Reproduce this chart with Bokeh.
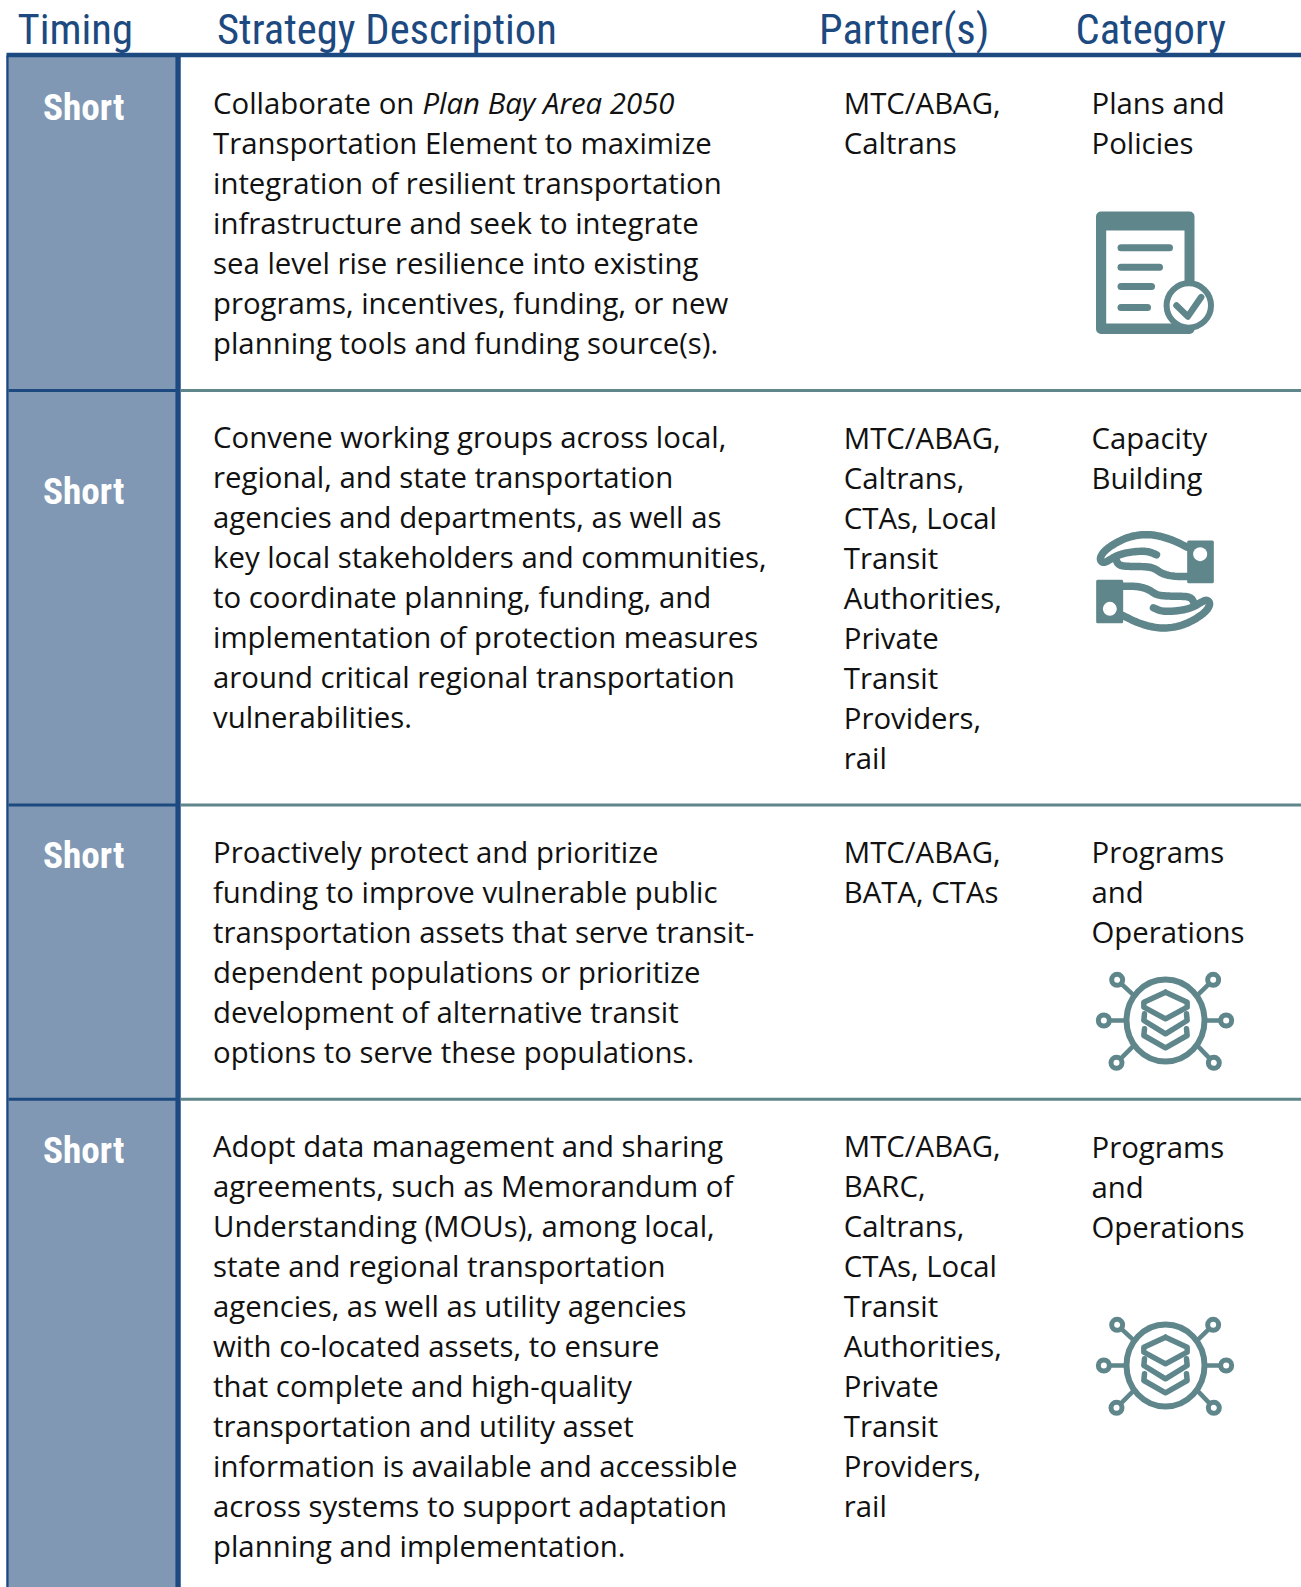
from bokeh.plotting import figure
from bokeh.embed import file_html
from bokeh.resources import INLINE
from bokeh.core.properties import value
from bokeh.models import Range1d

W, H = 1301, 1587
headers = ["Timing", "Strategy Description", "Partner(s)", "Category"]
header_x = [17, 216.5, 818.5, 1075]
timing = ["Short", "Short", "Short", "Short"]
timing_y = [106, 490, 854, 1149]
row_edges = [55, 390, 804.5, 1098.8, 1587]
strategy = [
 ["Collaborate on |Plan Bay Area 2050", "Transportation Element to maximize", "integration of resilient transportation", "infrastructure and seek to integrate", "sea level rise resilience into existing", "programs, incentives, funding, or new", "planning tools and funding source(s)."],
 ["Convene working groups across local,", "regional, and state transportation", "agencies and departments, as well as", "key local stakeholders and communities,", "to coordinate planning, funding, and", "implementation of protection measures", "around critical regional transportation", "vulnerabilities."],
 ["Proactively protect and prioritize", "funding to improve vulnerable public", "transportation assets that serve transit-", "dependent populations or prioritize", "development of alternative transit", "options to serve these populations."],
 ["Adopt data management and sharing", "agreements, such as Memorandum of", "Understanding (MOUs), among local,", "state and regional transportation", "agencies, as well as utility agencies", "with co-located assets, to ensure", "that complete and high-quality", "transportation and utility asset", "information is available and accessible", "across systems to support adaptation", "planning and implementation."],
]
strategy_y = [102, 436, 851, 1145]
partners = [
 ["MTC/ABAG,", "Caltrans"],
 ["MTC/ABAG,", "Caltrans,", "CTAs, Local", "Transit", "Authorities,", "Private", "Transit", "Providers,", "rail"],
 ["MTC/ABAG,", "BATA, CTAs"],
 ["MTC/ABAG,", "BARC,", "Caltrans,", "CTAs, Local", "Transit", "Authorities,", "Private", "Transit", "Providers,", "rail"],
]
partners_y = [102, 437, 851, 1145]
category = [["Plans and", "Policies"], ["Capacity", "Building"], ["Programs", "and", "Operations"], ["Programs", "and", "Operations"]]
category_y = [102, 437, 851, 1146]

NAVY = "#1c4a80"; STEEL = "#8098b3"; TEAL = "#5f868b"; INK = "#111111"
LEAD = 40.0

p = figure(width=W, height=H, output_backend="svg", toolbar_location=None,
           x_range=Range1d(0, W), y_range=Range1d(H, 0), min_border=0)
p.axis.visible = False; p.grid.visible = False; p.outline_line_color = None

# table frame
p.quad(left=8, right=175, top=row_edges[:-1], bottom=row_edges[1:], fill_color=STEEL, line_color=None)
p.segment(x0=[7], y0=[55], x1=[7], y1=[H], line_color=NAVY, line_width=2.5)
p.segment(x0=[177.5], y0=[55], x1=[177.5], y1=[H], line_color=NAVY, line_width=5.5)
p.segment(x0=[6], y0=[54.5], x1=[W], y1=[54.5], line_color=NAVY, line_width=4.5)
for y in row_edges[1:-1]:
    p.segment(x0=[8], y0=[y], x1=[177], y1=[y], line_color=NAVY, line_width=3)
    p.segment(x0=[180], y0=[y], x1=[W], y1=[y], line_color=TEAL, line_width=3)

def T(x, y, s, size, font="Open Sans", color=INK, style="normal"):
    p.text(x=[x], y=[y], text=[s], text_font=value(font), text_font_size=f"{size}px",
           text_color=color, text_font_style=style, text_baseline="middle", text_align="left")

for x, s in zip(header_x, headers):
    T(x, 28, s, 42.6, "Roboto Condensed", NAVY)
for y, s in zip(timing_y, timing):
    T(42.5, y, s, 37.2, "Roboto Condensed", "#ffffff", "bold")
BODY = 29.35
for y0, lines in zip(strategy_y, strategy):
    for i, l in enumerate(lines):
        y = y0 + i*LEAD
        if "|" in l:
            a, b = l.split("|")
            T(212.5, y, a, BODY)
            T(422, y, b, BODY, style="italic")
        else:
            T(212.5, y, l, BODY)
for y0, lines in zip(partners_y, partners):
    for i, l in enumerate(lines):
        T(843.3, y0 + i*LEAD, l, BODY)
for y0, lines in zip(category_y, category):
    for i, l in enumerate(lines):
        T(1091, y0 + i*LEAD, l, BODY)

# ---- icons (decorative, traced in crop coordinates: crop px / 3 + origin)
def smooth(pts, n=3):
    for _ in range(n):
        out = [pts[0]]
        for a, b in zip(pts, pts[1:]):
            out.append((0.75*a[0]+0.25*b[0], 0.75*a[1]+0.25*b[1]))
            out.append((0.25*a[0]+0.75*b[0], 0.25*a[1]+0.75*b[1]))
        out.append(pts[-1])
        pts = out
    return pts

def stroke(pts, ox, oy, w, sm=False):
    if sm:
        pts = smooth(pts)
    p.line([ox + a/3 for a, _ in pts], [oy + b/3 for _, b in pts], line_color=TEAL,
           line_width=w, line_cap="round", line_join="round")

# document icon
p.quad(left=[1100.5], right=[1189], top=[216], bottom=[328.5], fill_color=TEAL, line_color=TEAL,
       line_width=10, line_join="round")
p.quad(left=[1105.7], right=[1184], top=[230], bottom=[323], fill_color="#ffffff", line_color=None)
for y, x1 in [(247.3, 1169), (266.7, 1159), (286, 1151), (307, 1147)]:
    p.segment(x0=[1120.5], y0=[y], x1=[x1], y1=[y], line_color=TEAL, line_width=7, line_cap="round")
p.circle(x=[1188.3], y=[305], radius=22.2, fill_color="#ffffff", line_color=TEAL, line_width=6)
stroke([(378, 345), (412, 378), (452, 320)], 1050, 190, 6.5)

# hands icon
HAND = [
    [(410,110),(370,90),(330,77),(290,71),(240,77),(195,97),(160,122),(147,145),(157,158),(175,150),(195,137),(225,127),(265,122),(295,123),(318,133)],
    [(195,145),(205,165),(235,168),(280,168),(310,172),(335,190),(370,198),(410,198)],
]
CX, CY = 313.5, 212.5
for rot in (False, True):
    for path in HAND:
        pts = [(2*CX-a, 2*CY-b) for a, b in path] if rot else path
        stroke(pts, 1050, 510, 7.5, sm=True)
    (a0, b0, a1, b1, hx, hy) = (137, 208, 218, 338, 178, 295) if rot else (410, 90, 490, 218, 449, 131)
    p.quad(left=[1050+a0/3+1.5], right=[1050+a1/3-1.5], top=[510+b0/3+1.5], bottom=[510+b1/3-1.5],
           fill_color=TEAL, line_color=TEAL, line_width=3, line_join="round")
    p.circle(x=[1050+hx/3], y=[510+hy/3], radius=7, fill_color="#ffffff", line_color=None)

# network icon, drawn twice
def network(ox, oy):
    cx, cy = ox + 285/3, oy + 210/3
    p.ellipse(x=[cx], y=[cy], width=78, height=82, fill_color=None, line_color=TEAL, line_width=6)
    nodes = [(100,210,160,210),(467,210,410,210),(140,88,185,130),(428,88,385,130),(138,337,185,290),(430,337,385,290)]
    for a, b, c, d in nodes:
        stroke([(a, b), (c, d)], ox, oy, 4.5)
        p.circle(x=[ox+a/3], y=[oy+b/3], radius=5.5, fill_color="#ffffff", line_color=TEAL, line_width=5)
    stroke([(285,125),(350,155),(350,170),(285,205),(220,170),(220,155),(285,125)], ox, oy, 5.5)
    stroke([(222,190),(220,210),(285,250),(350,210),(348,190)], ox, oy, 5.5)
    stroke([(222,235),(220,255),(285,292),(350,255),(348,235)], ox, oy, 5.5)

network(1070, 950)
network(1070, 1295)

open("out.html", "w").write(file_html(p, INLINE))
